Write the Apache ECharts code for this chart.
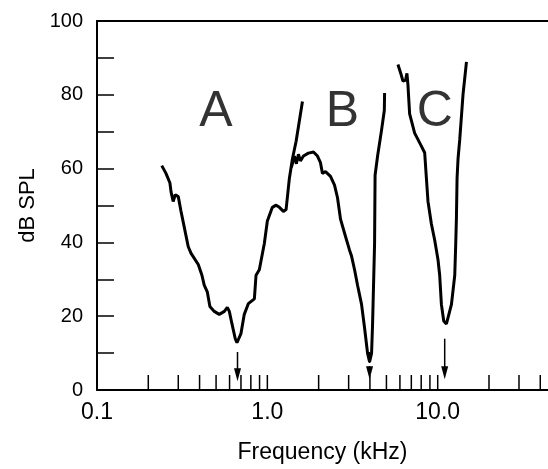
<!doctype html>
<html>
<head>
    <meta charset="utf-8">
    <title>dB SPL tuning curves</title>
    <script src="https://cdn.jsdelivr.net/npm/echarts@6/dist/echarts.min.js"></script>
    <style>
        html,body{margin:0;padding:0;background:#fff;}
        #ID-Chart{width:548px;height:469px;}
    </style>
</head>
<body>
    <div id="ID-Chart"></div>
    <script>
        //曲线数据 [kHz, dB SPL]
        var curveA=[
            [0.240,60.8],[0.254,58.7],[0.268,56.1],[0.272,53.7],[0.280,51.1],[0.288,52.9],
            [0.300,52.4],[0.311,48.5],[0.325,44.2],[0.343,38.9],[0.356,37.1],[0.393,34.0],
            [0.413,31.1],[0.426,28.4],[0.444,26.6],[0.460,22.6],[0.488,21.3],[0.522,20.5],
            [0.559,21.3],[0.582,22.4],[0.598,21.3],[0.620,17.9],[0.648,13.9],[0.663,12.8],
            [0.700,15.3],[0.732,20.5],[0.773,23.4],[0.839,24.7],[0.858,31.1],[0.897,32.6],
            [0.960,39.7],[1.000,45.8],[1.070,49.5],[1.125,50.1],[1.177,49.5],[1.242,48.4],
            [1.288,48.9],[1.347,57.4],[1.403,62.6],[1.475,67.4],[1.607,78.2]
        ];
        var curveB=[
            [1.384,60.3],[1.441,63.4],[1.481,61.3],[1.522,63.9],[1.564,62.1],[1.629,63.4],
            [1.742,64.2],[1.865,64.5],[1.969,63.4],[2.050,61.6],[2.106,58.7],[2.194,59.2],
            [2.348,57.9],[2.479,55.5],[2.581,52.1],[2.688,46.3],[2.876,41.6],[3.037,37.9],
            [3.120,36.3],[3.250,32.6],[3.384,28.4],[3.572,23.2],[3.721,16.8],[3.874,10.0],
            [3.981,7.6],[4.091,10.0],[4.146,17.9],[4.260,39.7],[4.289,58.2],[4.437,63.4],
            [4.683,70.5],[4.860,75.8],[4.877,80.5]
        ];
        var curveC=[
            [5.841,88.2],[6.116,85.3],[6.249,83.7],[6.482,84.0],[6.597,85.8],[6.687,82.7],
            [6.842,74.8],[7.322,69.6],[8.020,66.1],[8.385,64.3],[8.581,57.4],[8.769,51.1],
            [9.182,45.0],[9.603,40.6],[10.04,35.3],[10.27,31.1],[10.51,23.2],[10.85,18.7],
            [11.25,17.9],[12.04,23.2],[12.59,31.1],[12.76,39.7],[12.88,46.8],[12.99,57.4],
            [13.16,62.6],[13.47,67.9],[14.08,80.1],[14.75,88.9]
        ];
        //字母标注
        var letterText=['A','B','C'];
        var letterFreq=[0.499,2.76,9.6];
        var letterDb=[75.4,75.4,75.4];
        //箭头 [kHz, 起点dB, 终点dB]
        var arrowFreq=[0.668,3.98,10.99];
        var arrowTop=[10.3,10.3,13.9];
        var arrowTip=[2.4,2.9,2.9];
        //x轴刻度
        var xTickValues=[0.2,0.3,0.4,0.5,0.6,0.7,0.8,0.9,1,2,3,4,5,6,7,8,9,10,20,30,40];
        var xTickLabels={'0.1':'0.1','1':'1.0','10':'10.0'};
        var xMin=0.1,xMax=44.4;
        var yMin=0,yMax=100,yStep=20;

        var font='"Liberation Sans", Arial, Helvetica, sans-serif';

        var chart=echarts.init(document.getElementById('ID-Chart'));

        var tickData=xTickValues.map(function(v){return [v,0];});
        var arrowData=arrowFreq.map(function(f,i){return [f,arrowTop[i],arrowTip[i],i];});
        var letterData=letterFreq.map(function(f,i){return {value:[f,letterDb[i]],name:letterText[i]};});

        var option={
            animation:false,
            grid:{left:97,right:0,top:21,bottom:68},
            xAxis:[{
                type:'log',
                logBase:10,
                min:xMin,
                max:xMax,
                name:'Frequency (kHz)',
                nameLocation:'middle',
                nameGap:51,
                nameTextStyle:{color:'#000',fontSize:23,fontFamily:font},
                axisLine:{show:true,lineStyle:{color:'#000',width:2}},
                axisTick:{show:false},
                splitLine:{show:false},
                axisLabel:{
                    color:'#000',fontSize:23,fontFamily:font,margin:11,
                    showMaxLabel:false,
                    formatter:function(v){
                        var k=String(Math.round(v*10)/10);
                        return xTickLabels[k]||'';
                    }
                }
            },{
                //上边框
                type:'value',
                position:'top',
                min:0,max:1,
                axisLine:{show:true,lineStyle:{color:'#000',width:2}},
                axisTick:{show:false},
                axisLabel:{show:false},
                splitLine:{show:false}
            }],
            yAxis:{
                type:'value',
                min:yMin,
                max:yMax,
                interval:yStep,
                name:'dB SPL',
                nameLocation:'middle',
                nameGap:56,
                nameTextStyle:{color:'#000',fontSize:22,fontFamily:font},
                axisLine:{show:true,lineStyle:{color:'#000',width:2}},
                axisTick:{show:true,inside:true,length:17,lineStyle:{color:'#000',width:1.5}},
                minorTick:{show:true,splitNumber:2,length:17,lineStyle:{color:'#000',width:1.5}},
                splitLine:{show:false},
                axisLabel:{color:'#000',fontSize:20,fontFamily:font,margin:14}
            },
            series:[
                {type:'line',data:curveA,showSymbol:false,lineStyle:{color:'#000',width:3},z:5},
                {type:'line',data:curveB,showSymbol:false,lineStyle:{color:'#000',width:3},z:5},
                {type:'line',data:curveC,showSymbol:false,lineStyle:{color:'#000',width:3},z:5},
                {
                    //x轴刻度线
                    type:'custom',
                    data:tickData,
                    clip:false,
                    silent:true,
                    renderItem:function(params,api){
                        var p=api.coord([api.value(0),0]);
                        return {type:'line',shape:{x1:p[0],y1:p[1],x2:p[0],y2:p[1]-15},
                            style:{stroke:'#000',lineWidth:1.5}};
                    }
                },
                {
                    //箭头
                    type:'custom',
                    data:arrowData,
                    clip:false,
                    silent:true,
                    renderItem:function(params,api){
                        var f=api.value(0);
                        var a=api.coord([f,api.value(1)]);
                        var b=api.coord([f,api.value(2)]);
                        var dashed=api.value(3)===1;
                        return {type:'group',children:[
                            {type:'line',shape:{x1:a[0],y1:a[1],x2:b[0],y2:b[1]-8},
                                style:{stroke:'#000',lineWidth:1.5,lineDash:dashed?[4,3]:null}},
                            {type:'polygon',shape:{points:[[b[0]-3.5,b[1]-13],[b[0]+3.5,b[1]-13],[b[0],b[1]]]},
                                style:{fill:'#000'}}
                        ]};
                    }
                },
                {
                    //A B C
                    type:'scatter',
                    data:letterData,
                    symbolSize:0,
                    silent:true,
                    label:{show:true,position:'inside',formatter:'{b}',color:'#000',
                        fontSize:50,fontFamily:font}
                }
            ]
        };
        chart.setOption(option);
    </script>
</body>
</html>
